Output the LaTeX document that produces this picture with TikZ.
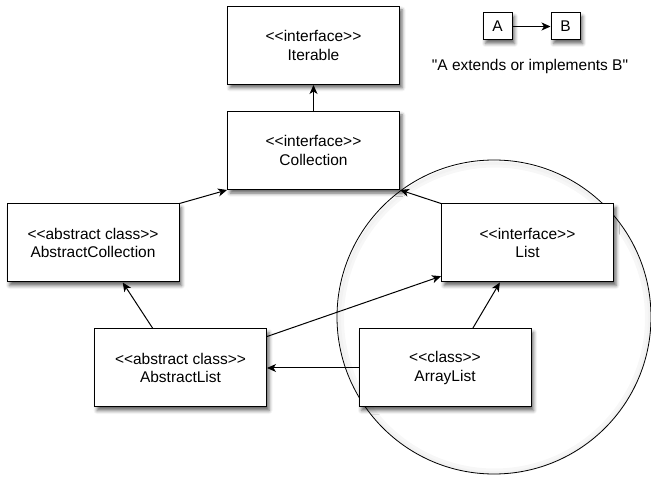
\documentclass[tikz,border=0pt]{standalone}
\usepackage{fontspec}
\newfontfamily\umlfont{Liberation Sans}
\usetikzlibrary{arrows.meta,shadows.blur}

\begin{document}
\begin{tikzpicture}[x=1pt,y=-1pt,
  umlfnt/.style={font=\umlfont\fontsize{15.5}{18.7}\selectfont},
  umlbox/.style={umlfnt,draw,fill=white,line width=1pt,minimum width=172pt,minimum height=78pt,
    align=center,inner sep=2pt,
    blur shadow={shadow xshift=2.5pt,shadow yshift=-3.5pt,shadow blur radius=3.5pt,shadow opacity=60}},
  keybox/.style={umlbox,minimum width=29pt,minimum height=27pt},
  extends/.style={-{Stealth[length=9pt,width=8pt,inset=2.5pt]},line width=1pt}]
\useasboundingbox (0,0) rectangle (651,478);
% circle round List and ArrayList, with a soft inner haze
\draw[line width=6pt,black!3] (494.5,318) circle (153.5);
\draw[line width=3pt,black!5] (494.5,318) circle (155);
\draw[line width=0.8pt] (494,317) circle (157);

\node[umlbox] (iterable) at (313.5,45.5) {<<interface>>\\Iterable};
\node[umlbox] (collection) at (313.5,150.5) {<<interface>>\\Collection};
\node[umlbox] (abscoll) at (93,243) {<<abstract class>>\\AbstractCollection};
\node[umlbox] (list) at (527.5,243) {<<interface>>\\List};
\node[umlbox] (abslist) at (180.5,368) {<<abstract class>>\\AbstractList};
\node[umlbox] (arraylist) at (445,368) {<<class>>\\ArrayList};

% key
\node[keybox] (a) at (497.5,26.5) {A};
\node[keybox] (b) at (565.5,26.5) {B};
\node[umlfnt] (note) at (530,66) {"A extends or implements B"};

\draw[extends] (collection) -- (iterable);
\draw[extends] (abscoll.north east) -- (collection.south west);
\draw[extends] (list.north west) -- (collection.south east);
\draw[extends] (abslist.125) -- (abscoll.307);
\draw[extends] (abslist.20) -- (list.201);
\draw[extends] (arraylist.55) -- (list.235);
\draw[extends] (arraylist) -- (abslist);
\draw[extends] (a) -- (b);
\end{tikzpicture}
\end{document}
